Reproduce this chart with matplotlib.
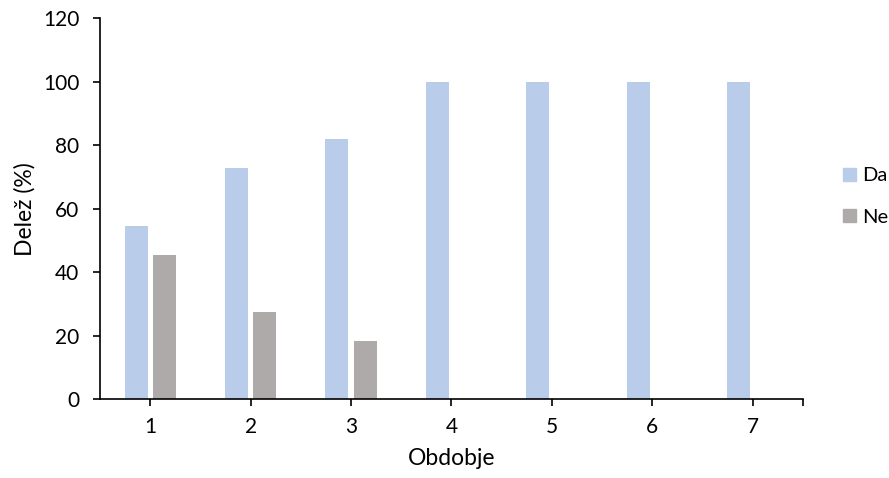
import matplotlib
matplotlib.use("Agg")
import matplotlib.pyplot as plt
import numpy as np
from matplotlib.patches import Patch

categories = ["1", "2", "3", "4", "5", "6", "7"]
da = [54.5, 72.7, 81.8, 100, 100, 100, 100]
ne = [45.5, 27.3, 18.2, 0, 0, 0, 0]

plt.rcParams['font.family'] = ['Lato', 'DejaVu Sans']
fig = plt.figure(figsize=(8.89, 4.78), dpi=100)
ax = fig.add_axes([0.1125, 0.165, 0.7905, 0.797])

x = np.arange(len(categories))
w = 0.23
c_da = "#B9CCE9"
c_ne = "#AEAAAA"
ax.bar(x - 0.14, da, w, color=c_da)
ax.bar(x + 0.14, ne, w, color=c_ne)

ax.set_xlim(-0.5, len(categories) - 0.5)
ax.set_ylim(0, 120)
ax.set_yticks(range(0, 121, 20))
ax.set_xticks(x)
ax.set_xticklabels(categories)
ax.set_xticks([len(categories) - 0.5], minor=True)
for s in ["top", "right"]:
    ax.spines[s].set_visible(False)
for s in ["left", "bottom"]:
    ax.spines[s].set_linewidth(1.2)
    ax.spines[s].set_color("black")
ax.tick_params(axis="both", which="both", direction="out", length=5, width=1.2, labelsize=15, colors="black")
ax.tick_params(axis="y", pad=10)
ax.tick_params(axis="x", pad=8)
ax.set_xlabel("Obdobje", fontsize=16.5, labelpad=8)
ax.set_ylabel("Delež (%)", fontsize=16.5, labelpad=5.5)

handles = [Patch(color=c_da, label="Da"), Patch(color=c_ne, label="Ne")]
fig.legend(handles=handles, loc="center left", bbox_to_anchor=(843 / 889, 1 - 196.5 / 478),
           frameon=False, fontsize=14.5, handlelength=0.65, handleheight=0.65,
           handletextpad=0.3, labelspacing=1.2, borderaxespad=0, borderpad=0)

fig.savefig("out.png", dpi=100)
